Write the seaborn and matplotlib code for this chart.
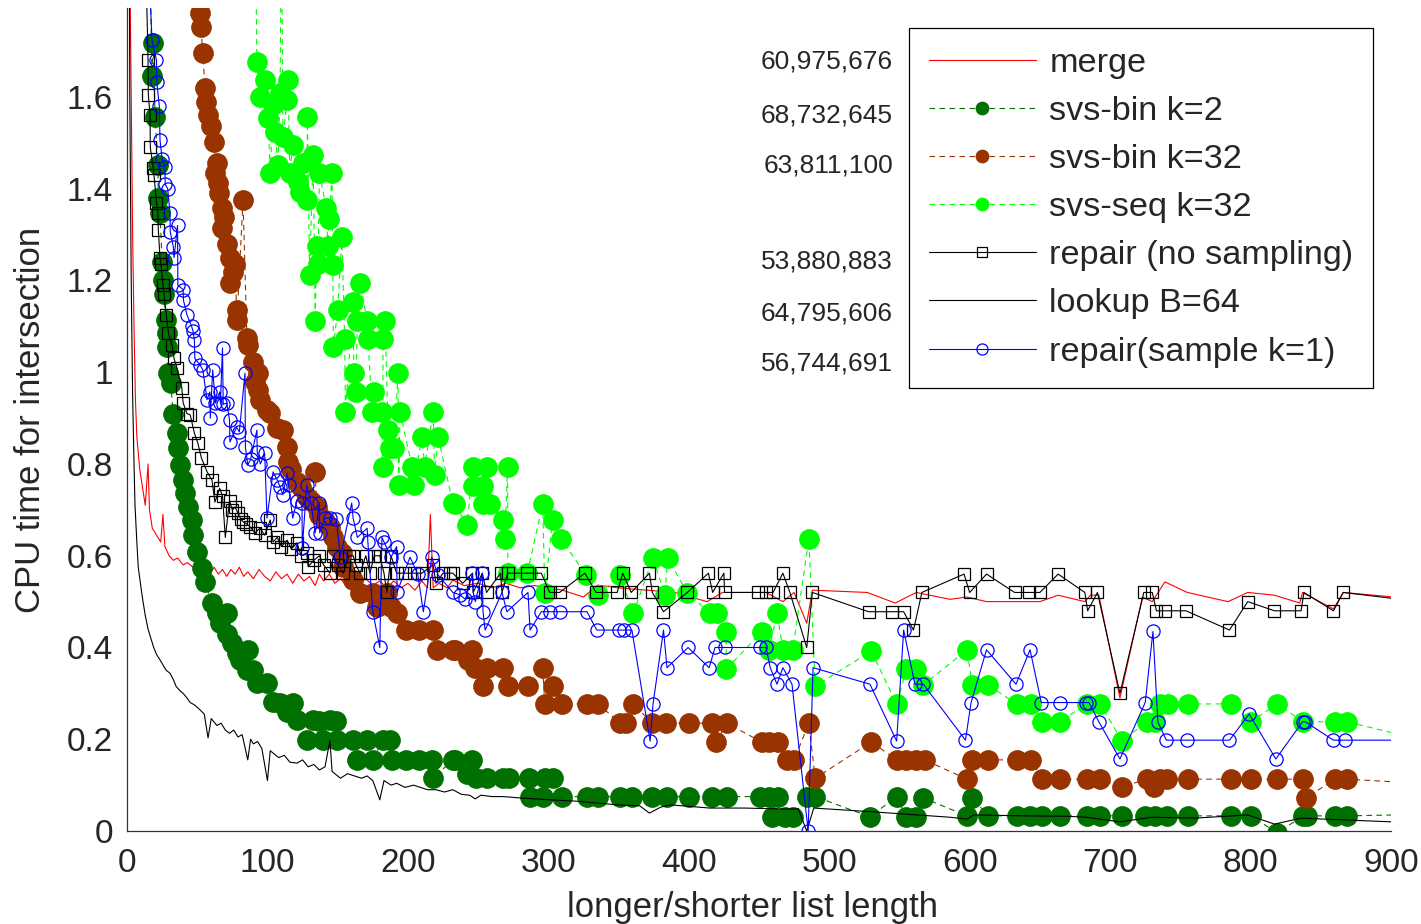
import matplotlib
matplotlib.use('Agg')
import matplotlib.pyplot as plt
from matplotlib.lines import Line2D
from matplotlib.ticker import FuncFormatter
import seaborn as sns

# (list ratio, cpu time)
merge_pts = [(1, 2.2), (3, 1.6), (4, 1.3), (5, 1.1), (6, 0.94), (7, 0.86), (9, 0.79), (11, 0.75), (13, 0.71),
             (15, 0.80), (16, 0.70), (18, 0.66), (20, 0.65), (22, 0.64), (24, 0.63), (25.6, 0.69), (27, 0.62),
             (30, 0.60), (33, 0.59), (36, 0.595), (40, 0.58), (43, 0.585), (47, 0.575), (50, 0.58), (53, 0.57),
             (56, 0.575), (60, 0.565), (62, 0.575), (65, 0.56), (68, 0.57), (71, 0.555), (74, 0.57), (77, 0.56),
             (80, 0.575), (83, 0.555), (86, 0.565), (90, 0.55), (94, 0.57), (98, 0.555), (102, 0.545), (106, 0.565),
             (110, 0.55), (114, 0.56), (118, 0.54), (122, 0.56), (126, 0.545), (130, 0.555), (134, 0.535),
             (137, 0.56), (140, 0.545), (144, 0.56), (148, 0.54), (152, 0.55), (156, 0.535), (160, 0.55),
             (165, 0.54), (170, 0.55), (175, 0.535), (180, 0.545), (185, 0.53), (190, 0.545), (195, 0.53),
             (200, 0.54), (205, 0.525), (210, 0.545), (214, 0.53), (216, 0.69), (218, 0.53), (222, 0.54),
             (228, 0.53), (232, 0.547), (240, 0.535), (250, 0.54), (260, 0.53), (270, 0.54), (280, 0.53),
             (290, 0.535), (300, 0.53), (310, 0.525), (325, 0.51), (335, 0.536), (350, 0.53), (370, 0.525),
             (390, 0.52), (413, 0.50), (424, 0.52), (440, 0.52), (455, 0.52), (467, 0.50), (475, 0.52),
             (484, 0.453), (488, 0.525), (527, 0.52), (547, 0.497), (562, 0.52), (586, 0.505), (598, 0.51),
             (612, 0.50), (650, 0.50), (663, 0.514), (682, 0.50), (686, 0.514), (692, 0.514), (707, 0.29),
             (723, 0.51), (730, 0.50), (739, 0.543), (755, 0.52), (784, 0.50), (798, 0.52), (817, 0.514),
             (835, 0.497), (837, 0.52), (859, 0.484), (866, 0.52), (920, 0.505)]

svs_bin2_pts = [(16, 1.95), (17.8, 1.645), (18.7, 1.717), (20, 1.556), (22, 1.452), (22.3, 1.38), (23.5, 1.347),
                (25, 1.24), (25.6, 1.20), (26, 1.17), (28, 1.114), (28.5, 1.085), (28.8, 1.055), (29, 0.998),
                (31, 0.976), (33, 0.91), (35.5, 0.868), (36.5, 0.835), (37.7, 0.798), (40, 0.765), (41.3, 0.737),
                (43.4, 0.706), (46, 0.678), (47, 0.645), (49.8, 0.608), (53.4, 0.573), (55.5, 0.543), (60.5, 0.497),
                (64, 0.475), (66, 0.453), (71, 0.475), (71.2, 0.43), (74.8, 0.41), (78, 0.388), (80.5, 0.373),
                (85.4, 0.35), (86, 0.395), (90, 0.35), (92.5, 0.322), (99.7, 0.322), (104, 0.282), (109, 0.28),
                (114, 0.26), (118, 0.28), (121, 0.242), (128, 0.198), (132.5, 0.242), (137, 0.24), (139.6, 0.198),
                (144.5, 0.242), (149, 0.24), (149.5, 0.198), (161, 0.198), (164, 0.155), (171, 0.198), (175, 0.155),
                (182, 0.198), (187, 0.198), (189, 0.155), (199, 0.155), (208, 0.155), (217, 0.155), (218, 0.115),
                (232, 0.155), (233.5, 0.155), (242, 0.125), (246, 0.155), (248.6, 0.115), (256, 0.115),
                (268, 0.115), (272, 0.115), (286, 0.115), (287, 0.075), (296, 0.075), (297.5, 0.115), (303, 0.115),
                (310, 0.075), (327.5, 0.075), (335.5, 0.075), (351, 0.075), (359.5, 0.075), (374, 0.075),
                (384.5, 0.075), (400, 0.075), (416.5, 0.075), (427, 0.075), (450.7, 0.075), (457, 0.075),
                (459, 0.031), (463.5, 0.075), (468.5, 0.031), (474, 0.031), (484, 0.075), (490, 0.075),
                (529, 0.031), (548, 0.075), (555, 0.031), (562, 0.031), (567, 0.072), (598, 0.033), (602, 0.072),
                (613, 0.033), (633.5, 0.033), (643, 0.033), (651.5, 0.033), (664, 0.033), (683.5, 0.033),
                (693, 0.033), (708.5, 0.033), (725, 0.033), (732, 0.033), (740.5, 0.033), (755.5, 0.033),
                (786, 0.033), (800, 0.033), (819, -0.004), (837.5, 0.033), (840, 0.033), (860, 0.033),
                (868.7, 0.033), (920, 0.036)]

svs_bin32_pts = [(51, 1.95), (52, 1.783), (52.5, 1.753), (54, 1.696), (55.5, 1.62), (56, 1.59), (57.7, 1.56),
                 (59.8, 1.537), (62, 1.502), (62.7, 1.434), (64, 1.457), (65, 1.412), (65.6, 1.39), (67.6, 1.358),
                 (67.8, 1.314), (69, 1.338), (71, 1.28), (73.3, 1.249), (73.5, 1.194), (75.5, 1.219), (77, 1.236),
                 (78, 1.136), (78.3, 1.114), (82.6, 1.375), (85.4, 1.075), (86, 1.06), (90, 1.022), (91, 0.979),
                 (93, 0.998), (93.3, 0.961), (95, 0.94), (99.7, 0.918), (102, 0.911), (107, 0.878), (111, 0.874),
                 (114, 0.837), (114.3, 0.804), (117, 0.79), (121, 0.761), (124, 0.75), (128, 0.728), (131, 0.72),
                 (134, 0.783), (135, 0.706), (137, 0.689), (141, 0.675), (144.5, 0.663), (147, 0.641),
                 (149.5, 0.619), (153, 0.606), (154, 0.575), (161, 0.547), (166, 0.519), (175, 0.519), (178, 0.488),
                 (185, 0.519), (188, 0.488), (192, 0.475), (199, 0.438), (208, 0.438), (218, 0.438), (220.5, 0.395),
                 (232, 0.395), (233.5, 0.395), (243, 0.373), (246, 0.395), (248, 0.355), (253.5, 0.316),
                 (256, 0.355), (268, 0.355), (271, 0.316), (285.5, 0.316), (296, 0.355), (297.5, 0.277),
                 (303, 0.316), (309.5, 0.277), (327.5, 0.277), (335.5, 0.277), (351, 0.235), (355, 0.235),
                 (360.5, 0.277), (374, 0.235), (384, 0.235), (400.5, 0.235), (416.5, 0.235), (419.5, 0.194),
                 (427, 0.235), (452, 0.194), (457, 0.194), (463.5, 0.194), (470, 0.155), (475, 0.155),
                 (485.5, 0.235), (490, 0.115), (530, 0.194), (548, 0.155), (555, 0.155), (562, 0.155),
                 (568, 0.155), (598, 0.113), (602, 0.155), (613, 0.155), (633.5, 0.155), (644, 0.155),
                 (651.5, 0.113), (664, 0.113), (683.5, 0.113), (693, 0.113), (708.5, 0.096), (726, 0.113),
                 (731, 0.096), (735.5, 0.113), (740.5, 0.113), (755.5, 0.113), (786, 0.113), (800, 0.113),
                 (819, 0.113), (837.5, 0.113), (839.5, 0.072), (860, 0.113), (868.7, 0.113), (920, 0.104)]

svs_seq32_pts = [(90, 2.1), (91.5, 1.95), (92.5, 1.676), (94.7, 1.60), (98, 1.637), (100.4, 1.554), (102, 1.434),
                 (104, 1.583), (105.4, 1.524), (107.5, 1.452), (109, 1.608), (110, 2.0), (111, 1.513), (114, 1.593),
                 (114.6, 1.637), (116, 1.434), (118, 1.495), (122, 1.415), (123, 1.393), (125.5, 1.456),
                 (128, 1.375), (128.5, 1.556), (130, 1.212), (132.5, 1.474), (134, 1.112), (135, 1.275),
                 (136, 1.236), (137, 1.434), (142, 1.358), (143, 1.275), (144, 1.334), (146, 1.434), (146.5, 1.234),
                 (147, 1.055), (150, 1.136), (153, 1.295), (155, 1.072), (155.5, 0.913), (161, 1.153),
                 (161.5, 0.998), (163, 0.957), (164, 1.112), (166, 1.195), (171, 1.112), (171.6, 1.072),
                 (174.5, 0.913), (176, 0.957), (181.6, 0.913), (182, 0.794), (182.3, 1.072), (183.7, 1.112),
                 (186, 0.874), (187.3, 0.835), (190, 0.835), (193, 0.998), (193.5, 0.754), (194.4, 0.913),
                 (203, 0.794), (204, 0.754), (210, 0.859), (212, 0.794), (218, 0.913), (219, 0.776), (221.5, 0.859),
                 (232, 0.715), (233.5, 0.713), (242, 0.667), (246.4, 0.793), (246.6, 0.752), (253.5, 0.752),
                 (253.7, 0.713), (256, 0.793), (258.5, 0.713), (268, 0.678), (269, 0.636), (271, 0.793),
                 (271.2, 0.562), (285, 0.562), (296, 0.713), (297.5, 0.519), (303, 0.678), (309, 0.636),
                 (327, 0.558), (335.5, 0.515), (351, 0.558), (360.5, 0.475), (374.5, 0.595), (383, 0.515),
                 (385, 0.595), (399, 0.519), (415, 0.475), (420, 0.475), (426.5, 0.434), (426.7, 0.353),
                 (452, 0.434), (457, 0.395), (463, 0.475), (467, 0.395), (474, 0.395), (485.5, 0.636),
                 (490, 0.316), (530, 0.392), (548, 0.277), (555, 0.353), (562, 0.353), (567, 0.318), (598, 0.395),
                 (602, 0.318), (613, 0.318), (633.5, 0.277), (644, 0.277), (651.5, 0.238), (664, 0.238),
                 (683.5, 0.277), (693, 0.277), (708.5, 0.196), (726, 0.238), (732, 0.238), (735.5, 0.277),
                 (741, 0.277), (755.5, 0.277), (786, 0.277), (800, 0.238), (819, 0.277), (837.5, 0.238),
                 (860, 0.238), (868.7, 0.238), (920, 0.20)]

repair_pts = [(13, 1.95), (15, 1.68), (15.2, 1.605), (16.4, 1.56), (16.6, 1.49), (18.7, 1.445), (19.2, 1.43),
              (21, 1.37), (22, 1.347), (22.3, 1.31), (23.5, 1.25), (24.2, 1.235), (25.6, 1.19), (26.3, 1.17),
              (28, 1.125), (29.5, 1.085), (32, 1.06), (33.5, 1.03), (35.5, 1.01), (39, 0.966), (40, 0.933),
              (42.7, 0.91), (45, 0.907), (48, 0.867), (50.5, 0.845), (53, 0.813), (57, 0.783), (60.5, 0.765),
              (62.6, 0.717), (66, 0.747), (68, 0.73), (70, 0.64), (73, 0.72), (75, 0.70), (77, 0.706), (79, 0.693),
              (81, 0.68), (82.6, 0.674), (85, 0.67), (87.6, 0.663), (91, 0.65), (94.7, 0.66), (98, 0.645),
              (102, 0.678), (104, 0.63), (107, 0.64), (110, 0.62), (114, 0.634), (117, 0.615), (121, 0.628),
              (124, 0.60), (128, 0.606), (129, 0.576), (133, 0.59), (137, 0.60), (140, 0.58), (144.5, 0.562),
              (147, 0.60), (150, 0.58), (154, 0.562), (158, 0.60), (161, 0.60), (163, 0.58), (166, 0.562),
              (170, 0.60), (173, 0.562), (176, 0.60), (180, 0.60), (183, 0.562), (185, 0.52), (188, 0.60),
              (192, 0.562), (198, 0.562), (204, 0.562), (210, 0.562), (218, 0.58), (220, 0.54), (225, 0.562),
              (230, 0.562), (232, 0.562), (239, 0.54), (246, 0.562), (246.5, 0.52), (253, 0.562), (256, 0.52),
              (266, 0.562), (267, 0.52), (271, 0.562), (285, 0.562), (295, 0.562), (301, 0.52), (308, 0.52),
              (326, 0.562), (334, 0.52), (349, 0.52), (353, 0.562), (359, 0.52), (372, 0.562), (374, 0.52),
              (382, 0.478), (399, 0.52), (414, 0.562), (417, 0.52), (425, 0.562), (425.5, 0.52), (449, 0.52),
              (455, 0.52), (460, 0.52), (467, 0.562), (472, 0.52), (484, 0.40), (488, 0.52), (528, 0.478),
              (545, 0.478), (553, 0.478), (560, 0.438), (566, 0.52), (596, 0.56), (600, 0.52), (612, 0.56),
              (632, 0.52), (642, 0.52), (650, 0.52), (663, 0.56), (682, 0.52), (684, 0.48), (691, 0.52),
              (707, 0.30), (724, 0.52), (730, 0.52), (733, 0.48), (739, 0.48), (754, 0.48), (785, 0.438),
              (798, 0.50), (817, 0.48), (836, 0.48), (838, 0.52), (859, 0.48), (866, 0.52), (920, 0.50)]

lookup_pts = [(1, 2.5), (2, 1.6), (3, 1.2), (4, 0.95), (5, 0.8), (5.7, 0.71), (7, 0.63), (8, 0.575), (10, 0.53),
              (11.4, 0.50), (13, 0.47), (15, 0.44), (17, 0.42), (19, 0.40), (21, 0.385), (23.5, 0.373), (26, 0.36),
              (28, 0.35), (30.6, 0.344), (33, 0.33), (35, 0.315), (38, 0.305), (40, 0.30), (42.7, 0.29),
              (45, 0.28), (48, 0.275), (52, 0.264), (55, 0.255), (57.7, 0.203), (60, 0.245), (64, 0.23),
              (67, 0.235), (70, 0.22), (73, 0.213), (76, 0.22), (79, 0.205), (82, 0.21), (86, 0.155), (88, 0.2),
              (90, 0.19), (93, 0.195), (96, 0.18), (100, 0.11), (102, 0.175), (104, 0.17), (108, 0.16),
              (112, 0.165), (116, 0.15), (121, 0.148), (125, 0.155), (129, 0.14), (133, 0.145), (137, 0.133),
              (141, 0.14), (144.5, 0.198), (146, 0.13), (152, 0.115), (157, 0.125), (162, 0.12), (167, 0.115),
              (171, 0.12), (175, 0.11), (180, 0.068), (183, 0.11), (188, 0.10), (192, 0.104), (198, 0.095),
              (204, 0.10), (208, 0.096), (214, 0.09), (220, 0.09), (226, 0.085), (232, 0.09), (238, 0.08),
              (244, 0.078), (248, 0.07), (252, 0.078), (260, 0.075), (268, 0.075), (280, 0.072), (301, 0.068),
              (320, 0.065), (349, 0.057), (365, 0.055), (372, 0.039), (380, 0.052), (387, 0.057), (415, 0.05),
              (440, 0.05), (467, 0.048), (478, 0.048), (484, 0.0), (489, 0.05), (530, 0.042), (586, 0.03),
              (598, 0.026), (603, 0.035), (640, 0.033), (670, 0.032), (683, 0.03), (707, 0.02), (730, 0.03),
              (760, 0.028), (798, 0.035), (817, 0.015), (836, 0.028), (900, 0.02), (920, 0.02)]

sample_pts = [(14, 2.0), (17.8, 1.724), (21, 1.68), (21.2, 1.633), (23, 1.58), (23.5, 1.506), (25, 1.465),
              (27, 1.448), (27.2, 1.41), (29, 1.40), (30.6, 1.347), (30.8, 1.306), (33, 1.273), (33.5, 1.25),
              (36, 1.32), (36.2, 1.19), (40, 1.18), (40.2, 1.157), (42.7, 1.125), (46, 1.10), (47, 1.09),
              (48, 1.07), (48.3, 1.03), (52, 1.016), (54, 1.005), (57, 0.94), (59, 0.957), (59.3, 0.90),
              (61, 1.005), (63, 0.933), (66, 0.957), (66.5, 0.933), (68, 1.053), (68.5, 0.93), (71, 0.933),
              (73, 0.896), (73.3, 0.848), (78, 0.88), (80, 0.87), (84, 0.998), (84.3, 0.837), (86, 0.798),
              (88, 0.81), (92.5, 0.874), (92.7, 0.826), (95, 0.80), (98, 0.824), (99.7, 0.682), (104, 0.783),
              (107, 0.765), (109, 0.75), (111, 0.733), (114, 0.78), (115, 0.755), (118, 0.682), (121, 0.72),
              (124.6, 0.715), (124.8, 0.617), (128, 0.754), (131, 0.715), (134, 0.65), (137, 0.715),
              (137.2, 0.65), (141, 0.682), (144.5, 0.682), (149, 0.68), (152, 0.597), (160, 0.715), (161, 0.682),
              (164, 0.64), (171, 0.66), (171.5, 0.63), (175, 0.478), (180, 0.40), (181.5, 0.64), (183, 0.63),
              (188, 0.597), (192, 0.62), (192.3, 0.52), (201.5, 0.597), (207, 0.56), (211, 0.478), (217, 0.597),
              (221.5, 0.558), (232, 0.52), (237, 0.515), (241, 0.505), (246, 0.562), (246.5, 0.52), (248, 0.50),
              (253, 0.562), (253.5, 0.478), (255, 0.438), (267, 0.52), (270.5, 0.478), (285.5, 0.52),
              (287, 0.438), (295, 0.478), (301, 0.478), (308, 0.478), (327.5, 0.478), (334.5, 0.438),
              (350, 0.438), (354, 0.438), (359.5, 0.438), (372.5, 0.196), (374.5, 0.276), (382, 0.438),
              (384.5, 0.356), (399.5, 0.40), (414.5, 0.356), (418.7, 0.40), (426, 0.40), (450.7, 0.40),
              (455, 0.40), (458, 0.356), (462.8, 0.32), (467, 0.356), (473.5, 0.32), (485, 0.0), (488.5, 0.356),
              (529, 0.32), (548, 0.196), (553, 0.438), (561, 0.32), (567, 0.32), (597, 0.198), (601, 0.28),
              (612, 0.395), (633, 0.32), (643, 0.395), (651, 0.28), (664, 0.28), (683, 0.28), (685, 0.28),
              (692, 0.238), (707, 0.157), (725, 0.28), (730.5, 0.435), (734, 0.238), (740, 0.198), (755, 0.198),
              (785, 0.198), (799, 0.255), (818, 0.157), (837, 0.238), (839, 0.238), (859, 0.198), (867, 0.198),
              (920, 0.198)]

labels = ['merge', 'svs-bin k=2', 'svs-bin k=32', 'svs-seq k=32', 'repair (no sampling)', 'lookup B=64',
          'repair(sample k=1)']
side_numbers = ['60,975,676', '68,732,645', '63,811,100', '', '53,880,883', '64,795,606', '56,744,691']

sns.set_style('white')
plt.rcParams['font.family'] = ['Liberation Sans', 'DejaVu Sans']

fig = plt.figure(figsize=(14.21, 9.24), dpi=100)
ax = fig.add_axes([127 / 1421, 93 / 924, 1264 / 1421, 823 / 924])

dash = (0, (5, 4))
styles = [
    dict(data=merge_pts, color='#ff0000', linestyle='-', marker=None),
    dict(data=svs_bin2_pts, color='#007000', linestyle=dash, marker='o', ms=14, mfc='#007000'),
    dict(data=svs_bin32_pts, color='#993300', linestyle=dash, marker='o', ms=14, mfc='#993300'),
    dict(data=svs_seq32_pts, color='#00ff00', linestyle=dash, marker='o', ms=14, mfc='#00ff00'),
    dict(data=repair_pts, color='black', linestyle='-', marker='s', ms=8, mfc='none'),
    dict(data=lookup_pts, color='black', linestyle='-', marker=None),
    dict(data=sample_pts, color='#0000ff', linestyle='-', marker='o', ms=9.5, mfc='none'),
]
legend_ms = [0, 9, 9, 9, 7, 0, 8]

handles = []
for st, lab, lms in zip(styles, labels, legend_ms):
    xs = [p[0] for p in st['data']]
    ys = [p[1] for p in st['data']]
    kws = dict(color=st['color'], linestyle=st['linestyle'], linewidth=0.8)
    if st['marker']:
        kws.update(marker=st['marker'], markersize=st['ms'], markerfacecolor=st['mfc'],
                   markeredgecolor=st['color'], markeredgewidth=0.9)
    sns.lineplot(x=xs, y=ys, ax=ax, estimator=None, sort=False, legend=False, **kws)
    hk = dict(color=st['color'], linestyle=st['linestyle'], linewidth=0.8)
    if st['marker']:
        hk.update(marker=st['marker'], markersize=lms, markerfacecolor=st['mfc'],
                  markeredgecolor=st['color'], markeredgewidth=0.9)
    handles.append(Line2D([], [], **hk))

ax.set_xlim(0, 900)
ax.set_ylim(0, 1.794)
ax.set_xticks(range(0, 901, 100))
ax.set_yticks([0, 0.2, 0.4, 0.6, 0.8, 1.0, 1.2, 1.4, 1.6])
ax.yaxis.set_major_formatter(FuncFormatter(lambda v, p: f'{v:g}'))
ax.tick_params(direction='in', length=8, width=0.8, labelsize=24, color='#333333')
ax.tick_params(axis='x', pad=12)
ax.tick_params(axis='y', pad=10)
for side in ['top', 'right']:
    ax.spines[side].set_visible(False)
for side in ['left', 'bottom']:
    ax.spines[side].set_color('#333333')
    ax.spines[side].set_linewidth(0.9)

ax.set_xlabel('longer/shorter list length', fontsize=25, labelpad=9)
ax.xaxis.label.set_x(0.4945)
ax.set_ylabel('CPU time for intersection', fontsize=25, labelpad=14)

leg = ax.legend(handles, labels, loc='upper right', bbox_to_anchor=(0.986, 0.976), fontsize=24.7,
                frameon=True, fancybox=False, framealpha=1, edgecolor='black', handlelength=3.1,
                handletextpad=0.4, labelspacing=0.5, borderpad=0.58, borderaxespad=0)
leg.get_frame().set_linewidth(0.9)

row_y = [62, 115, 166, 214, 262, 313, 364]
for txt, py in zip(side_numbers, row_y):
    if txt:
        fig.text(893 / 1421, 1 - py / 924, txt, ha='right', va='center', fontsize=19)

fig.savefig('out.png', dpi=100)
